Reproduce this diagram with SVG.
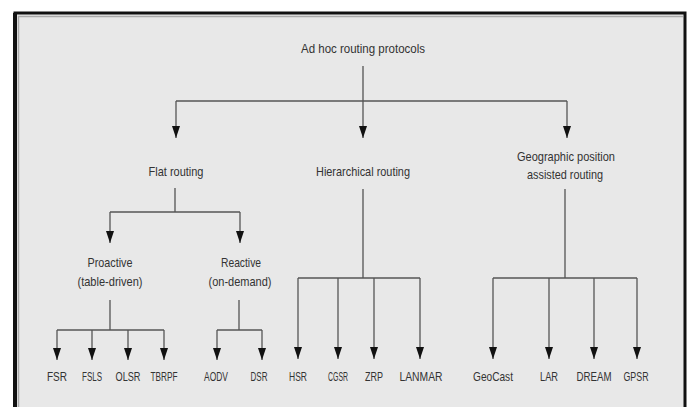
<svg xmlns="http://www.w3.org/2000/svg" width="691" height="407" viewBox="0 0 691 407">
<style>
.t{font-family:"Liberation Sans",Arial,sans-serif;font-size:13px;fill:#333;text-anchor:middle}
.c{fill:none;stroke:#555;stroke-width:1.3}
</style>
<defs>
<marker id="ah" markerUnits="userSpaceOnUse" markerWidth="13" markerHeight="8" refX="12" refY="4" orient="auto" viewBox="0 0 12 8">
<path d="M0,0 L12,4 L0,8 Z" fill="#111"/>
</marker>
</defs>
<rect x="0" y="0" width="691" height="407" fill="#fff"/>
<rect x="15" y="13" width="670" height="410" fill="#e8e8e8" stroke="#111" stroke-width="3"/>
<line x1="15" y1="13" x2="15" y2="407" stroke="#111" stroke-width="4"/>
<path d="M18.5,407 V16.5 H683" fill="none" stroke="#aaa" stroke-width="1.5"/>
<g id="connectors">
<path class="c" d="M363,66 V101 M176,101 H567"/>
<line class="c" x1="176" y1="101" x2="176" y2="138" marker-end="url(#ah)"/>
<line class="c" x1="363" y1="101" x2="363" y2="138" marker-end="url(#ah)"/>
<line class="c" x1="567" y1="101" x2="567" y2="138" marker-end="url(#ah)"/>
<path class="c" d="M175,188 V212 M110,212 H240"/>
<line class="c" x1="110" y1="212" x2="110" y2="243" marker-end="url(#ah)"/>
<line class="c" x1="240" y1="212" x2="240" y2="243" marker-end="url(#ah)"/>
<path class="c" d="M110,300 V330 M57,330 H164"/>
<line class="c" x1="57" y1="330" x2="57" y2="360" marker-end="url(#ah)"/>
<line class="c" x1="92" y1="330" x2="92" y2="360" marker-end="url(#ah)"/>
<line class="c" x1="128" y1="330" x2="128" y2="360" marker-end="url(#ah)"/>
<line class="c" x1="164" y1="330" x2="164" y2="360" marker-end="url(#ah)"/>
<path class="c" d="M239,300 V330 M217,330 H262"/>
<line class="c" x1="217" y1="330" x2="217" y2="360" marker-end="url(#ah)"/>
<line class="c" x1="262" y1="330" x2="262" y2="360" marker-end="url(#ah)"/>
<path class="c" d="M363,189 V278 M298,278 H420"/>
<line class="c" x1="298" y1="278" x2="298" y2="359" marker-end="url(#ah)"/>
<line class="c" x1="338" y1="278" x2="338" y2="359" marker-end="url(#ah)"/>
<line class="c" x1="374" y1="278" x2="374" y2="359" marker-end="url(#ah)"/>
<line class="c" x1="420" y1="278" x2="420" y2="359" marker-end="url(#ah)"/>
<path class="c" d="M565,189 V278 M493,278 H637"/>
<line class="c" x1="493" y1="278" x2="493" y2="359" marker-end="url(#ah)"/>
<line class="c" x1="549" y1="278" x2="549" y2="359" marker-end="url(#ah)"/>
<line class="c" x1="594" y1="278" x2="594" y2="359" marker-end="url(#ah)"/>
<line class="c" x1="637" y1="278" x2="637" y2="359" marker-end="url(#ah)"/>
</g>
<g id="root"><text class="t" x="363" y="53" textLength="124" lengthAdjust="spacingAndGlyphs">Ad hoc routing protocols</text></g>
<g id="flat"><text class="t" x="176" y="176" textLength="55" lengthAdjust="spacingAndGlyphs">Flat routing</text></g>
<g id="hier"><text class="t" x="363" y="176" textLength="94" lengthAdjust="spacingAndGlyphs">Hierarchical routing</text></g>
<g id="geo"><text class="t" x="566" y="161" textLength="98" lengthAdjust="spacingAndGlyphs">Geographic position</text><text class="t" x="565" y="179" textLength="76" lengthAdjust="spacingAndGlyphs">assisted routing</text></g>
<g id="proactive"><text class="t" x="110" y="267" textLength="45" lengthAdjust="spacingAndGlyphs">Proactive</text><text class="t" x="110" y="286" textLength="65" lengthAdjust="spacingAndGlyphs">(table-driven)</text></g>
<g id="reactive"><text class="t" x="241" y="267" textLength="40" lengthAdjust="spacingAndGlyphs">Reactive</text><text class="t" x="240" y="286" textLength="63" lengthAdjust="spacingAndGlyphs">(on-demand)</text></g>
<g id="fsr"><text class="t" x="57" y="381" textLength="20" lengthAdjust="spacingAndGlyphs">FSR</text></g>
<g id="fsls"><text class="t" x="92" y="381" textLength="20" lengthAdjust="spacingAndGlyphs">FSLS</text></g>
<g id="olsr"><text class="t" x="128" y="381" textLength="25" lengthAdjust="spacingAndGlyphs">OLSR</text></g>
<g id="tbrpf"><text class="t" x="164" y="381" textLength="27" lengthAdjust="spacingAndGlyphs">TBRPF</text></g>
<g id="aodv"><text class="t" x="216" y="381" textLength="24" lengthAdjust="spacingAndGlyphs">AODV</text></g>
<g id="dsr"><text class="t" x="259" y="381" textLength="17" lengthAdjust="spacingAndGlyphs">DSR</text></g>
<g id="hsr"><text class="t" x="298" y="381" textLength="18" lengthAdjust="spacingAndGlyphs">HSR</text></g>
<g id="cgsr"><text class="t" x="338" y="381" textLength="20" lengthAdjust="spacingAndGlyphs">CGSR</text></g>
<g id="zrp"><text class="t" x="374" y="381" textLength="18" lengthAdjust="spacingAndGlyphs">ZRP</text></g>
<g id="lanmar"><text class="t" x="421" y="381" textLength="43" lengthAdjust="spacingAndGlyphs">LANMAR</text></g>
<g id="geocast"><text class="t" x="493" y="381" textLength="40" lengthAdjust="spacingAndGlyphs">GeoCast</text></g>
<g id="lar"><text class="t" x="549" y="381" textLength="18" lengthAdjust="spacingAndGlyphs">LAR</text></g>
<g id="dream"><text class="t" x="594" y="381" textLength="35" lengthAdjust="spacingAndGlyphs">DREAM</text></g>
<g id="gpsr"><text class="t" x="636" y="381" textLength="25" lengthAdjust="spacingAndGlyphs">GPSR</text></g>
</svg>
